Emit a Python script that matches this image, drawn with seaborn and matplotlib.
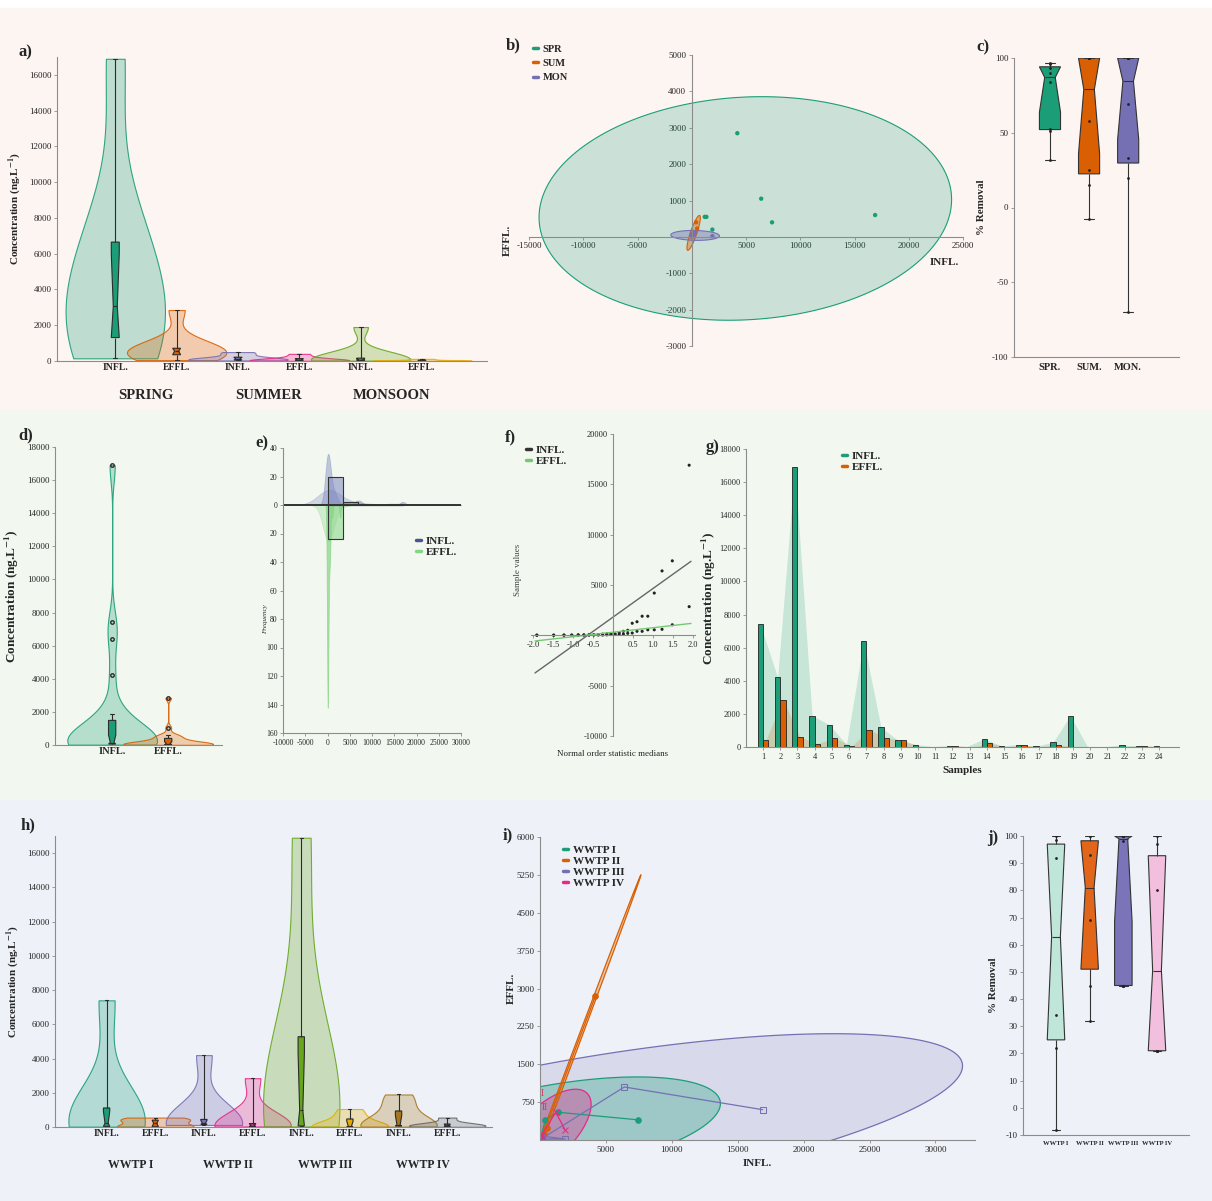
import numpy as np
import pandas as pd
import matplotlib.pyplot as plt
import seaborn as sns
from matplotlib.colors import to_rgba
from matplotlib.lines import Line2D
from matplotlib.patches import Rectangle, PathPatch
from matplotlib.ticker import FuncFormatter
from statistics import NormalDist

# concentrations per sample (ng/L)
samples = list(range(1, 25))
infl = [7400, 4200, 16900, 1900, 1350, 150, 6400, 1200, 400, 150, 30, 80,
        30, 500, 60, 150, 50, 280, 1900, 20, 20, 120, 60, 50]
effl = [400, 2850, 600, 200, 550, 50, 1050, 550, 400, 30, 10, 80,
        10, 230, 20, 100, 30, 120, 20, 10, 10, 30, 80, 20]
types = ['INFL.', 'EFFL.']
season_codes = ['SPR', 'SUM', 'MON']          # samples 1-8, 9-16, 17-24
season_names = ['SPRING', 'SUMMER', 'MONSOON']
plants = ['WWTP I', 'WWTP II', 'WWTP III', 'WWTP IV']   # sample k -> plant (k-1) % 4

rem_labels = ['SPR.', 'SUM.', 'MON.']
rem_spr = [32, 51, 52.5, 84, 90, 93.5, 96, 96.5]
rem_sum = [-8, 15, 25, 58, 100, 100, 100, 100]
rem_mon = [-70, 20, 33, 69, 100, 100, 100, 100]
rem_w1 = [-8, 22, 34, 92, 98.7, 100]
rem_w2 = [32, 45, 69, 93, 100, 100]
rem_w3 = [45, 45, 45, 98, 100, 100, 100, 100]
rem_w4 = [21, 21, 21, 80, 97, 100]

# F(0.95; 2, n-2) for the 95% ellipses
F95 = {6: 5.143, 4: 6.944}

sns.set_style('ticks')
plt.rcParams.update({'font.family': ['Liberation Serif', 'DejaVu Serif'],
                     'mathtext.fontset': 'stix', 'axes.facecolor': 'none',
                     'axes.unicode_minus': False})
dark2 = sns.color_palette('Dark2', 8)

wide = pd.DataFrame({'sample': samples, 'INFL': infl, 'EFFL': effl})
wide['season'] = [season_codes[(s - 1) // 8] for s in samples]
wide['plant'] = [plants[(s - 1) % 4] for s in samples]
df = pd.DataFrame({'sample': samples * 2, 'type': ['INFL.'] * 24 + ['EFFL.'] * 24,
                   'conc': infl + effl})
df['season'] = list(wide['season']) * 2
df['plant'] = list(wide['plant']) * 2
df['sgroup'] = df['season'] + ' ' + df['type']
df['pgroup'] = df['plant'] + ' ' + df['type']

W, H = 1212, 1201
fig = plt.figure(figsize=(W / 100, H / 100), dpi=100)
fx = lambda px: px / W
fy = lambda py: 1 - py / H


def add_ax(l, t, r, b):
    return fig.add_axes([l / W, 1 - b / H, (r - l) / W, (b - t) / H])


def style(ax, size=6.5):
    for s in ['top', 'right']:
        ax.spines[s].set_visible(False)
    for s in ['left', 'bottom']:
        ax.spines[s].set_color('#8c8c8c')
        ax.spines[s].set_linewidth(0.8)
    ax.tick_params(labelsize=size, length=2.5, width=0.6, color='#8c8c8c', pad=1.5)
    ax.set_xlabel('')
    ax.set_ylabel('')


def clip_notches(ax):
    # keep the notch inside the box, as the original software draws it
    for p in ax.patches:
        if not isinstance(p, PathPatch):
            continue
        v = p.get_path().vertices
        if len(v) < 11:
            continue
        lo, hi = sorted([v[0, 1], v[5, 1]])
        v[:, 1] = np.clip(v[:, 1], lo, hi)


def conf_ellipse(x, y, npts=200):
    x = np.asarray(x, float)
    y = np.asarray(y, float)
    n = len(x)
    vals, vecs = np.linalg.eigh(np.cov(x, y))
    k = np.sqrt(2 * (n - 1) / (n - 2) * F95[n - 2])
    t = np.linspace(0, 2 * np.pi, npts)
    pts = vecs @ (np.sqrt(np.clip(vals, 0, None))[:, None] * np.vstack([np.cos(t), np.sin(t)])) * k
    return x.mean() + pts[0], y.mean() + pts[1]


def violin_panel(ax, col, order, colors, width, bw, fliers=False):
    pal = dict(zip(order, colors))
    sns.violinplot(data=df, x=col, y='conc', hue=col, order=order, hue_order=order,
                   palette=pal, saturation=1, cut=0, density_norm='width', width=width,
                   inner=None, bw_adjust=bw, linewidth=0.8, legend=False, ax=ax)
    for coll in ax.collections:
        fc = coll.get_facecolor()[0]
        coll.set_facecolor(to_rgba(fc, 0.28))
        coll.set_edgecolor(to_rgba(fc, 0.9))
    sns.boxplot(data=df, x=col, y='conc', hue=col, order=order, hue_order=order,
                palette=pal, saturation=1, notch=True, width=0.13,
                whis=1.5 if fliers else (0, 100), showfliers=fliers, fliersize=2.5,
                linecolor='#2b2b2b', linewidth=0.8, legend=False, ax=ax)
    clip_notches(ax)


def small_legend(labels, colors, x, y, size=7.5, spacing=0.1):
    hs = [Line2D([], [], color=c, lw=2.5) for c in colors]
    fig.legend(hs, labels, loc='upper left', bbox_to_anchor=(fx(x), fy(y)), frameon=False,
               handlelength=0.5, handletextpad=0.4, labelspacing=spacing, borderpad=0,
               prop={'weight': 'bold', 'size': size})


bold = dict(fontweight='bold')
conc_label = r'Concentration (ng.L$^{\mathbf{-1}}$)'

# background bands
for top, bot, c in [(8, 410, '#fdf5f2'), (410, 800, '#f2f8ef'), (800, 1201, '#eef2f8')]:
    fig.add_artist(Rectangle((0, fy(bot)), 1, (bot - top) / H, transform=fig.transFigure,
                             color=c, zorder=-10))

# a) seasons violins
ax = add_ax(57, 57, 487, 361)
order_a = [f'{s} {t}' for s in season_codes for t in types]
violin_panel(ax, 'sgroup', order_a, dark2[:6], 1.62, 1.0)
style(ax)
ax.set_ylim(0, 17000)
ax.set_yticks(range(0, 16001, 2000))
ax.set_xlim(-0.95, 6.06)
ax.set_xticks(range(6))
ax.set_xticklabels(types * 3, fontsize=7, fontweight='bold')
ax.tick_params(axis='x', length=0)
ax.set_ylabel(conc_label, fontsize=8, **bold)
for i, name in enumerate(season_names):
    ax.text(2 * i + 0.5, -0.115, name, transform=ax.get_xaxis_transform(),
            ha='center', va='center', fontsize=10.5, **bold)

# b) season ellipses
ax = add_ax(529, 55, 963, 346)
alphas = [0.22, 0.4, 0.4]
for code, c, a in zip(season_codes, dark2[:3], alphas):
    sub = wide[wide['season'] == code]
    ex, ey = conf_ellipse(sub['INFL'], sub['EFFL'])
    ax.fill(ex, ey, facecolor=to_rgba(c, a), edgecolor=c, lw=0.8)
sns.scatterplot(data=wide, x='INFL', y='EFFL', hue='season', hue_order=season_codes,
                palette=dark2[:3], s=10, edgecolor='none', legend=False, ax=ax)
style(ax, 6.5)
ax.spines['left'].set_position(('data', 0))
ax.spines['bottom'].set_position(('data', 0))
ax.set_xlim(-15000, 25000)
ax.set_ylim(-3000, 5000)
ax.set_xticks([v for v in range(-15000, 25001, 5000) if v != 0])
ax.set_yticks([v for v in range(-3000, 5001, 1000) if v != 0])
ax.text(23300, -700, 'INFL.', ha='center', va='center', fontsize=8, **bold)
fig.text(fx(507), fy(240), 'EFFL.', rotation=90, ha='center', va='center', fontsize=8, **bold)
small_legend(season_codes, dark2[:3], 528, 39, 7.5, 0.5)

# c) removal by season
ax = add_ax(1014, 58, 1179, 357)
rem_a = pd.DataFrame({'grp': [rem_labels[0]] * len(rem_spr) + [rem_labels[1]] * len(rem_sum)
                      + [rem_labels[2]] * len(rem_mon), 'rem': rem_spr + rem_sum + rem_mon})
sns.boxplot(data=rem_a, x='grp', y='rem', hue='grp', palette=dark2[:3], saturation=1,
            notch=True, width=0.54, whis=(0, 100), linecolor='#333333', linewidth=0.8,
            legend=False, ax=ax)
clip_notches(ax)
sns.stripplot(data=rem_a, x='grp', y='rem', color='#222222', size=2, jitter=False, ax=ax)
style(ax)
ax.set_ylim(-100, 100)
ax.set_yticks([-100, -50, 0, 50, 100])
ax.set_xlim(-0.92, 3.3)
ax.set_xticks(range(3))
ax.set_xticklabels(rem_labels, fontsize=7.5, fontweight='bold')
ax.tick_params(axis='x', length=0, pad=4)
ax.set_ylabel('% Removal', fontsize=8, **bold)

# d) influent vs effluent violins
ax = add_ax(55, 447, 222, 745)
violin_panel(ax, 'type', types, dark2[:2], 1.6, 0.5, fliers=True)
style(ax)
ax.set_ylim(0, 18000)
ax.set_yticks(range(0, 18001, 2000))
ax.set_xlim(-1.02, 1.96)
ax.set_xticks(range(2))
ax.set_xticklabels(types, fontsize=7.5, fontweight='bold')
ax.tick_params(axis='x', length=0)
ax.set_ylabel(conc_label, fontsize=9.5, **bold)

# e) back-to-back histogram
ax = add_ax(283, 448, 461, 733)
bins = np.linspace(0, 16900, 6).tolist()
binw = bins[1] - bins[0]
c_in, c_ef = '#7f89c0', '#86d486'
grid = np.linspace(-10000, 30000, 800)


def kde_counts(vals, bw):
    v = np.asarray(vals, float)[:, None]
    dens = np.exp(-0.5 * ((grid - v) / bw) ** 2).sum(0) / (len(vals) * bw * np.sqrt(2 * np.pi))
    return dens * len(vals) * binw


ax.fill_between(grid, 0, kde_counts(infl, 2500), color=c_in, alpha=0.3, lw=0.6)
ax.fill_between(grid, 0, kde_counts(infl, 600), color=c_in, alpha=0.45, lw=0.6)
ax.fill_between(grid, 0, -kde_counts(effl, 1200), color=c_ef, alpha=0.3, lw=0.6)
ax.fill_between(grid, 0, -kde_counts(effl, 150), color=c_ef, alpha=0.7, lw=0.6)
hist_in = pd.DataFrame({'conc': infl, 'w': [1] * len(infl)})
hist_ef = pd.DataFrame({'conc': effl, 'w': [-1] * len(effl)})
sns.histplot(data=hist_in, x='conc', weights='w', bins=bins, color=c_in, alpha=0.55,
             edgecolor='#333333', linewidth=0.8, ax=ax)
sns.histplot(data=hist_ef, x='conc', weights='w', bins=bins, color=c_ef, alpha=0.55,
             edgecolor='#333333', linewidth=0.8, ax=ax)
ax.axhline(0, color='#333333', lw=1.4)
style(ax, 5.5)
ax.set_xlim(-10000, 30000)
ax.set_ylim(-160, 40)
ax.set_xticks(range(-10000, 30001, 5000))
ax.set_yticks(range(-160, 41, 20))
ax.yaxis.set_major_formatter(FuncFormatter(lambda v, p: f'{abs(int(v))}'))
ax.text(-0.1, 0.4, 'Frequency', transform=ax.transAxes, rotation=90, ha='center',
        va='center', fontsize=5, style='italic')
small_legend(types, ['#4a5590', c_ef], 410, 531, 8)

# f) normal probability plot
ax = add_ax(531, 434, 695, 736)
n = len(infl)
m = [(i - 0.3175) / (n + 0.365) for i in range(1, n + 1)]
m[-1] = 0.5 ** (1 / n)
m[0] = 1 - m[-1]
osm = [NormalDist().inv_cdf(p) for p in m]
qq = pd.DataFrame({'osm': osm * 2, 'val': sorted(infl) + sorted(effl),
                   'type': ['INFL.'] * n + ['EFFL.'] * n})
sns.scatterplot(data=qq, x='osm', y='val', color='#222222', s=5, edgecolor='none', ax=ax)
for t, c in [('INFL.', '#666666'), ('EFFL.', '#74c874')]:
    vals = qq.loc[qq['type'] == t, 'val']
    slope, icpt = np.polyfit(osm, vals, 1)
    xs = np.array([-1.95, 1.95])
    ax.plot(xs, icpt + slope * xs, color=c, lw=1)
style(ax, 6)
ax.spines['left'].set_position(('data', 0))
ax.spines['bottom'].set_position(('data', 0))
ax.set_xlim(-2.05, 2.05)
ax.set_ylim(-10000, 20000)
ax.set_xticks([-2, -1.5, -1, -0.5, 0.5, 1, 1.5, 2])
ax.set_xticklabels(['-2.0', '-1.5', '-1.0', '-0.5', '0.5', '1.0', '1.5', '2.0'])
ax.set_yticks([-10000, -5000, 5000, 10000, 15000, 20000])
ax.text(-0.08, 0.55, 'Sample values', transform=ax.transAxes, rotation=90,
        ha='center', va='center', fontsize=6.5, color='#444444')
ax.text(0.5, -0.06, 'Normal order statistic medians', transform=ax.transAxes,
        ha='center', va='center', fontsize=6.5)
small_legend(types, ['#333333', '#74c874'], 520, 440, 8)

# g) bars per sample
ax = add_ax(746, 449, 1179, 747)
pos = np.arange(len(samples))
ax.fill_between(pos - 0.155, 0, infl, color=dark2[0], alpha=0.2, lw=0, zorder=0)
ax.fill_between(pos + 0.155, 0, effl, color=dark2[1], alpha=0.2, lw=0, zorder=0)
sns.barplot(data=df, x='sample', y='conc', hue='type', hue_order=types, palette=dark2[:2],
            saturation=1, width=0.62, edgecolor='#222222', linewidth=0.6, errorbar=None,
            legend=False, ax=ax)
style(ax, 6)
ax.set_ylim(0, 18000)
ax.set_yticks(range(0, 18001, 2000))
ax.set_xlim(-0.99, 24.16)
ax.set_ylabel(conc_label, fontsize=9.5, **bold)
ax.yaxis.set_label_coords(-0.064, 0.5)
ax.set_xlabel('Samples', fontsize=8, **bold)
small_legend(types, dark2[:2], 836, 446, 8)

# h) WWTP violins
ax = add_ax(55, 836, 492, 1127)
order_h = [f'{p} {t}' for p in plants for t in types]
violin_panel(ax, 'pgroup', order_h, dark2, 1.57, 1.0)
style(ax)
ax.set_ylim(0, 17000)
ax.set_yticks(range(0, 16001, 2000))
ax.set_xlim(-1.06, 7.92)
ax.set_xticks(range(8))
ax.set_xticklabels(types * 4, fontsize=7, fontweight='bold')
ax.tick_params(axis='x', length=0)
ax.set_ylabel(conc_label, fontsize=8, **bold)
for i, name in enumerate(plants):
    ax.text(2 * i + 0.5, -0.13, name, transform=ax.get_xaxis_transform(),
            ha='center', va='center', fontsize=8.5, **bold)

# i) WWTP ellipses
ax = add_ax(540, 837, 975, 1140)
plant_col = dict(zip(plants, [dark2[0], dark2[1], dark2[2], dark2[3]]))
plant_alpha = {'WWTP I': 0.3, 'WWTP II': 0.3, 'WWTP III': 0.18, 'WWTP IV': 0.35}
for p in ['WWTP III', 'WWTP I', 'WWTP IV', 'WWTP II']:
    sub = wide[wide['plant'] == p]
    ex, ey = conf_ellipse(sub['INFL'], sub['EFFL'])
    ax.fill(ex, ey, facecolor=to_rgba(plant_col[p], plant_alpha[p]), edgecolor=plant_col[p], lw=0.9)
markers = {'WWTP I': 'o', 'WWTP II': 'o', 'WWTP III': 's', 'WWTP IV': 'x'}
for p in plants:
    sub = wide[wide['plant'] == p]
    mfc = 'none' if p == 'WWTP III' else plant_col[p]
    sns.lineplot(data=sub, x='INFL', y='EFFL', sort=False, estimator=None, color=plant_col[p],
                 marker=markers[p], markersize=4, mfc=mfc, mec=plant_col[p], lw=0.9, ax=ax)
ax.text(200, 930, 'I', color='#d43a5a', fontsize=7, ha='center', va='center')
ax.text(350, 650, 'II', color='#d43a5a', fontsize=7, ha='center', va='center')
style(ax, 6.5)
ax.set_xlim(0, 33000)
ax.set_ylim(0, 6000)
ax.set_xticks(range(5000, 30001, 5000))
ax.set_yticks(range(750, 6001, 750))
ax.set_xlabel('INFL.', fontsize=8, **bold)
ax.set_ylabel('EFFL.', fontsize=8, **bold)
ax.yaxis.set_label_coords(-0.055, 0.5)
small_legend(plants, [plant_col[p] for p in plants], 557, 840, 8)

# j) removal by WWTP
ax = add_ax(1023, 836, 1189, 1135)
rem_b = pd.DataFrame({'grp': [plants[0]] * len(rem_w1) + [plants[1]] * len(rem_w2)
                      + [plants[2]] * len(rem_w3) + [plants[3]] * len(rem_w4),
                      'rem': rem_w1 + rem_w2 + rem_w3 + rem_w4})
sns.boxplot(data=rem_b, x='grp', y='rem', hue='grp',
            palette=['#bfe6d8', '#e2661a', '#7b74b8', '#f3bfdf'], saturation=1,
            notch=True, width=0.52, whis=(0, 100), linecolor='#333333', linewidth=0.8,
            legend=False, ax=ax)
clip_notches(ax)
sns.stripplot(data=rem_b, x='grp', y='rem', color='#222222', size=2, jitter=False, ax=ax)
style(ax)
ax.set_ylim(-10, 100)
ax.set_yticks(range(-10, 101, 10))
ax.set_xlim(-0.98, 3.95)
ax.set_xticks(range(4))
ax.set_xticklabels(plants, fontsize=4.8, fontweight='bold')
ax.tick_params(axis='x', length=0, pad=4)
ax.set_ylabel('% Removal', fontsize=8, **bold)

# panel letters
for lab, x, y in [('a)', 25, 52), ('b)', 513, 45), ('c)', 983, 47), ('d)', 26, 435),
                  ('e)', 262, 443), ('f)', 510, 437), ('g)', 713, 447), ('h)', 28, 825),
                  ('i)', 508, 835), ('j)', 993, 838)]:
    fig.text(fx(x), fy(y), lab, ha='center', va='center', fontsize=12, **bold)

fig.savefig('out.png', dpi=100)
